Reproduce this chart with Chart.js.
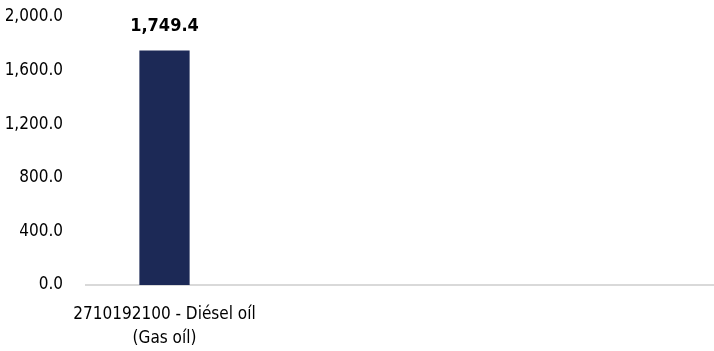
<!DOCTYPE html>
<html>
<head>
<meta charset="utf-8">
<script src="https://cdn.jsdelivr.net/npm/chart.js@4"></script>
<style>
html,body{margin:0;padding:0;background:#fff;}
#wrap{width:714px;height:351px;position:relative;}
</style>
</head>
<body>
<div id="wrap"><canvas id="c" width="714" height="351"></canvas></div>
<script>
const categories = [["2710192100 - Diésel oíl", "(Gas oíl)"], "", "", ""];
const values = [1749.4, null, null, null];
const yTicks = [0, 400, 800, 1200, 1600, 2000];

const FONT = "'Liberation Sans Narrow', 'DejaVu Sans Condensed', 'Arial Narrow', sans-serif";
const fmt = v => v.toLocaleString('en-US', {minimumFractionDigits: 1, maximumFractionDigits: 1});

const valueLabels = {
  id: 'valueLabels',
  afterDatasetsDraw(chart) {
    const ctx = chart.ctx;
    const meta = chart.getDatasetMeta(0);
    ctx.save();
    ctx.font = "bold 18px " + FONT;
    ctx.fillStyle = '#000';
    ctx.textAlign = 'center';
    ctx.textBaseline = 'middle';
    meta.data.forEach((bar, i) => {
      const v = values[i];
      if (v === null || v === undefined) return;
      ctx.fillText(fmt(v), bar.x, bar.y - 24);
    });
    ctx.restore();
  }
};

new Chart(document.getElementById('c'), {
  type: 'bar',
  data: {
    labels: categories,
    datasets: [{
      data: values,
      backgroundColor: '#1c2956',
      barPercentage: 0.64,
      categoryPercentage: 0.5
    }]
  },
  options: {
    responsive: false,
    animation: false,
    layout: {autoPadding: false, padding: {left: 6, right: 0, top: 17, bottom: 2}},
    plugins: {legend: {display: false}, tooltip: {enabled: false}},
    scales: {
      x: {
        afterFit: s => { s.paddingLeft = 0; s.paddingRight = 0; s.height = 64; },
        grid: {display: false, drawTicks: false},
        border: {display: true, color: '#d9d9d9', width: 2},
        ticks: {color: '#000', font: {family: FONT, size: 17, lineHeight: 1.4}, padding: 18, maxRotation: 0, autoSkip: false}
      },
      y: {
        min: 0, max: 2000,
        afterFit: s => { s.paddingTop = 0; s.paddingBottom = 0; s.width = 80; },
        afterBuildTicks: axis => { axis.ticks = yTicks.map(v => ({value: v})); },
        grid: {display: false, drawTicks: false},
        border: {display: false},
        ticks: {color: '#000', font: {family: FONT, size: 17}, padding: 23, callback: v => fmt(v)}
      }
    }
  },
  plugins: [valueLabels]
});
</script>
</body>
</html>
